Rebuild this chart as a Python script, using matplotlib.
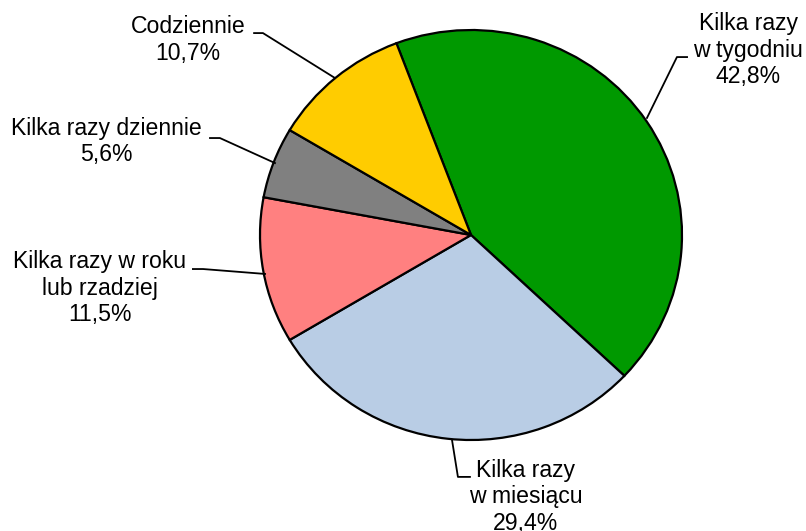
import matplotlib
matplotlib.use('Agg')
import matplotlib.pyplot as plt

# dane
labels = ['Kilka razy\nw tygodniu', 'Kilka razy\nw miesiącu', 'Kilka razy w roku\nlub rzadziej',
          'Kilka razy dziennie', 'Codziennie']
values = [42.8, 29.4, 11.5, 5.6, 10.7]
colors = ['#009900', '#B9CDE5', '#FF8080', '#808080', '#FFCC00']

# pozycje etykiet (w jednostkach promienia)
label_pos = [(1.313, 0.902), (0.258, -1.278), (-1.758, -0.259), (-1.730, 0.456), (-1.341, 0.951)]
leaders = [
    [(1.024, 0.868), (0.976, 0.868), (0.834, 0.571)],
    [(-0.005, -1.180), (-0.062, -1.180), (-0.090, -1.0)],
    [(-1.318, -0.166), (-1.270, -0.166), (-0.976, -0.190)],
    [(-1.237, 0.473), (-1.190, 0.473), (-0.929, 0.351)],
    [(-1.028, 0.985), (-0.986, 0.985), (-0.645, 0.766)],
]

plt.rcParams['font.family'] = ['Liberation Sans', 'DejaVu Sans']

W, H = 806, 531
fig = plt.figure(figsize=(W / 100, H / 100), dpi=100)
cx, cy, rx, ry = 471, 235, 211, 205
ax = fig.add_axes([(cx - rx) / W, 1 - (cy + ry) / H, 2 * rx / W, 2 * ry / H])

ax.pie(values, colors=colors, startangle=110.7, counterclock=False, radius=1,
       wedgeprops=dict(edgecolor='black', linewidth=1.6))
ax.set_aspect('auto')
ax.set_xlim(-1, 1)
ax.set_ylim(-1, 1)
ax.axis('off')

for lab, v, (x, y), pts in zip(labels, values, label_pos, leaders):
    txt = lab + '\n' + f'{v:.1f}'.replace('.', ',') + '%'
    ax.text(x, y, txt, ha='center', va='center', multialignment='center',
            fontsize=16.6, color='black', linespacing=1.2)
    ax.plot([p[0] for p in pts], [p[1] for p in pts], color='black', lw=1.3, clip_on=False)

fig.savefig('out.png', dpi=100)
